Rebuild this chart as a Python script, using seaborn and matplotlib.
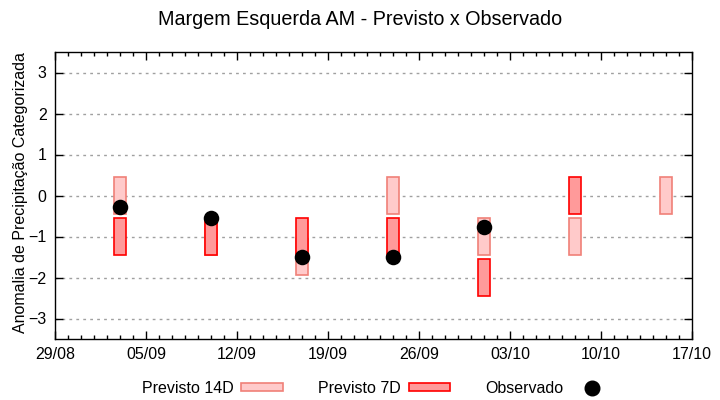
import numpy as np
import pandas as pd
import matplotlib
matplotlib.use('Agg')
import matplotlib.pyplot as plt
import matplotlib.dates as mdates
from matplotlib.patches import Patch
from matplotlib.lines import Line2D
import seaborn as sns


# semanas de previsao
datas = ['2023-09-03', '2023-09-10', '2023-09-17', '2023-09-24',
         '2023-10-01', '2023-10-08', '2023-10-15']
previsto_14d = [0, -1, -1.5, 0, -1, -1, 0]
previsto_7d = [-1, -1, -1, -1, -2, 0, np.nan]
observado = [-0.28, -0.55, -1.5, -1.5, -0.77, np.nan, np.nan]

ticks_y = [-3, -2, -1, 0, 1, 2, 3]
titulo = 'Margem Esquerda AM - Previsto x Observado'
rotulo_y = 'Anomalia de Precipitação Categorizada'


def main():
    sns.set_style('ticks')
    plt.rcParams['font.family'] = ['Liberation Sans', 'DejaVu Sans']
    plt.rcParams['text.color'] = 'black'
    plt.rcParams['axes.labelcolor'] = 'black'

    df = pd.DataFrame({'data': pd.to_datetime(datas),
                       'p14': previsto_14d,
                       'p7': previsto_7d,
                       'obs': observado})

    fig = plt.figure(figsize=(7.2, 4.0), dpi=100)
    ax = fig.add_axes([0.0764, 0.1525, 0.885, 0.7175])

    meia = 0.45
    largura = 0.9
    d14 = df.dropna(subset=['p14'])
    ax.bar(d14['data'], 2 * meia, bottom=d14['p14'] - meia, width=largura,
           color='#ffcaca', edgecolor='#f08078', linewidth=1.2, zorder=2)
    d7 = df.dropna(subset=['p7'])
    ax.bar(d7['data'], 2 * meia, bottom=d7['p7'] - meia, width=largura,
           color='#ff9a9a', edgecolor='#ff0000', linewidth=1.2, zorder=3)
    sns.scatterplot(data=df.dropna(subset=['obs']), x='data', y='obs',
                    color='black', s=125, edgecolor='black', linewidth=0,
                    zorder=4, ax=ax, legend=False)

    ax.set_xlim(pd.Timestamp('2023-08-29'), pd.Timestamp('2023-10-17'))
    ax.set_ylim(-3.5, 3.5)
    ax.set_yticks(ticks_y)
    ax.set_xticks(pd.date_range('2023-08-29', '2023-10-17', freq='7D'))
    ax.xaxis.set_minor_locator(mdates.DayLocator())
    ax.xaxis.set_major_formatter(mdates.DateFormatter('%d/%m'))
    ax.tick_params(axis='both', which='major', direction='in', length=6,
                   width=1, labelsize=11.5, top=True, right=True, pad=6,
                   colors='black')
    ax.tick_params(axis='x', which='minor', direction='in', length=3,
                   width=1, top=True, colors='black')
    ax.grid(axis='y', color='#a0a0a0', linestyle=(0, (2, 3)), linewidth=1,
            zorder=1)
    ax.grid(axis='x', visible=False)
    for s in ax.spines.values():
        s.set_color('black')
        s.set_linewidth(1)
    ax.set_xlabel('')
    ax.set_ylabel(rotulo_y, fontsize=11.5)
    ax.yaxis.set_label_coords(-0.042, 0.51)
    fig.suptitle(titulo, fontsize=14.2, y=0.975)

    handles = [Patch(facecolor='#ffcaca', edgecolor='#f08078', linewidth=1.2),
               Patch(facecolor='#ff9a9a', edgecolor='#ff0000', linewidth=1.2),
               Line2D([], [], marker='o', color='black', linestyle='none',
                      markersize=10.5)]
    ax.legend(handles, ['Previsto 14D', 'Previsto 7D', 'Observado'],
              ncol=3, loc='upper center', bbox_to_anchor=(0.506, -0.095),
              frameon=False, markerfirst=False, fontsize=11.5,
              handlelength=2.6, handleheight=0.4, columnspacing=2.2,
              handletextpad=0.5)

    fig.savefig('out.png', dpi=100)


if __name__ == '__main__':
    main()
